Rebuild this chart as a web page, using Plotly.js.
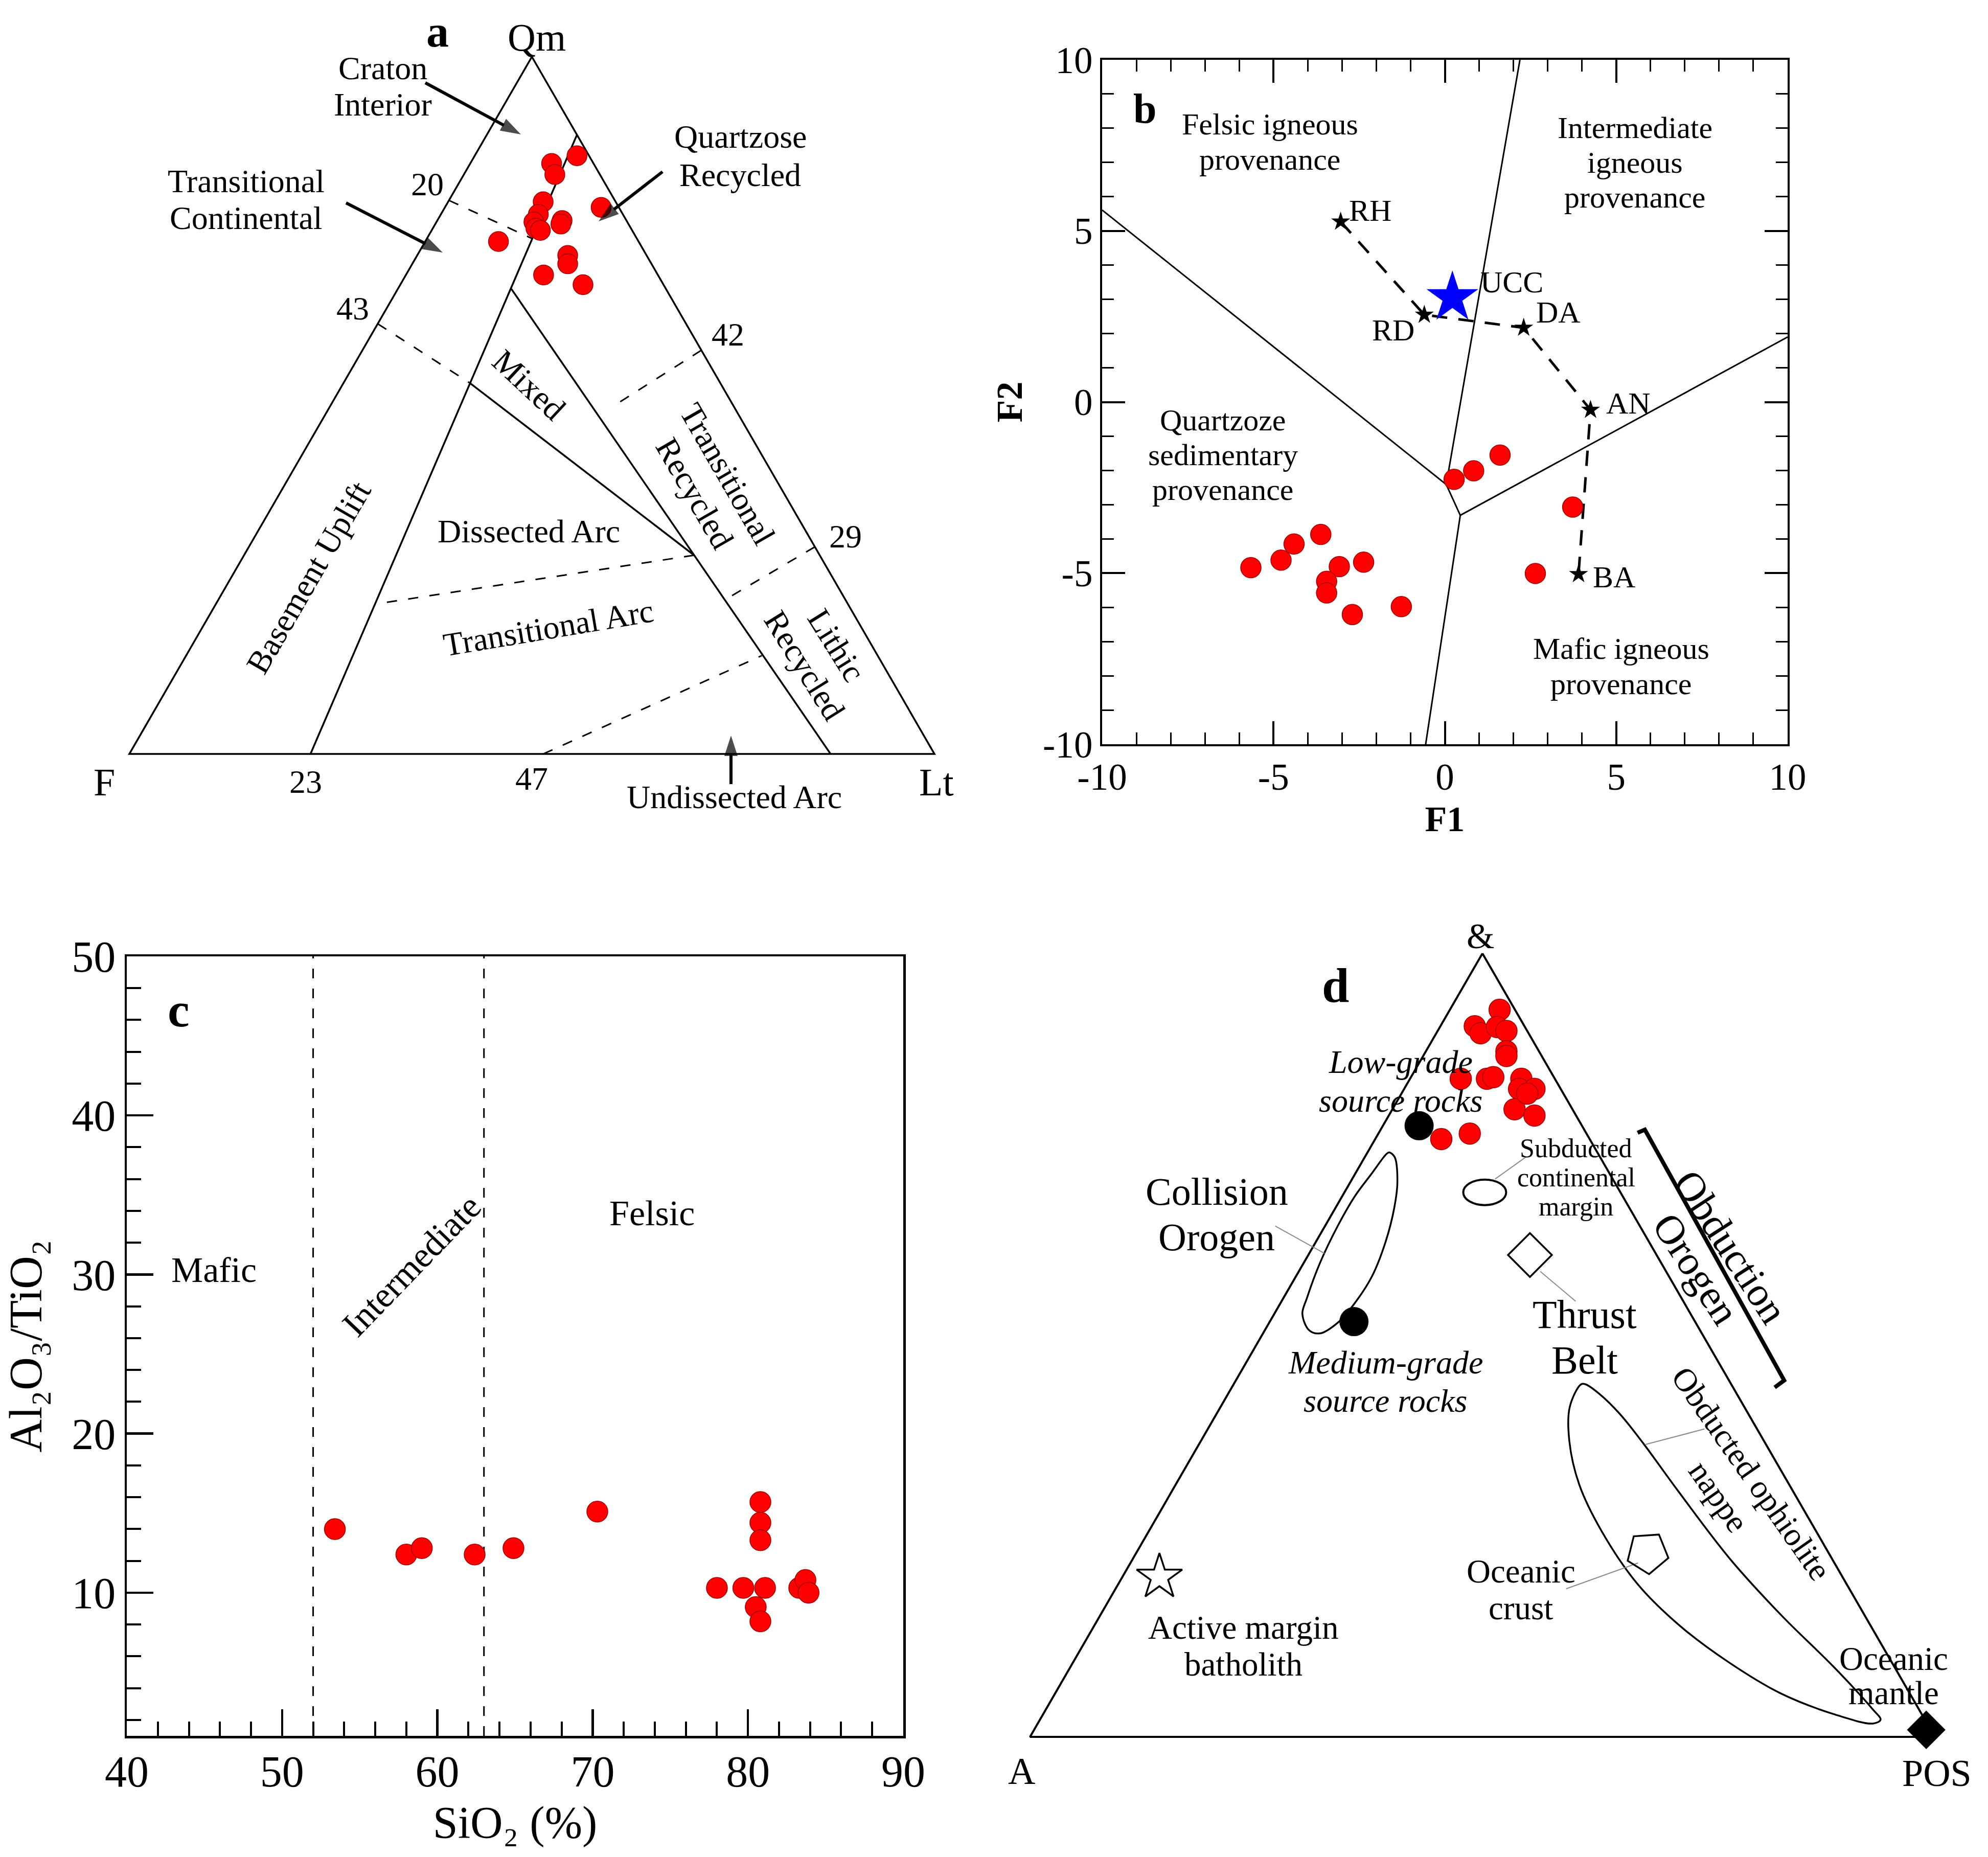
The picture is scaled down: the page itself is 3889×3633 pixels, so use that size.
<!DOCTYPE html>
<html>
<head>
<meta charset="utf-8">
<script src="https://cdn.plot.ly/plotly-3.0.1.min.js"></script>
<style>html,body{margin:0;padding:0;background:#fff;}</style>
</head>
<body>
<div id="chart" style="width:3889px;height:3633px;"></div>
<script>
// ================= DATA =================
// ---- Panel a : Qm-F-Lt ternary (percent) ----
const aQm = [85.8, 84.7, 83.1, 79.2, 77.4, 76.3, 75.4, 76.5, 76.0, 78.4, 73.5, 71.5, 70.3, 68.7, 67.3, 75.1];
const aF  = [1.5, 5.2, 5.6, 9.0, 10.5, 11.6, 11.8, 8.0, 8.4, 2.2, 17.4, 9.8, 10.4, 14.2, 10.0, 11.4];
const aLt = [12.7, 10.1, 11.3, 11.8, 12.1, 12.1, 12.8, 15.5, 15.6, 19.4, 9.1, 18.7, 19.3, 17.1, 22.7, 13.5];
// field boundaries as [Qm, F, Lt]
const aOuter = [[100,0,0],[0,100,0],[0,0,100],[100,0,0]];
const aSolid1 = [[88.8,0,11.2],[0,77.5,22.5]];
const aSolid2 = [[66.7,19.2,14.1],[0,12.9,87.1]];
const aSolid3 = [[53.2,31.1,15.7],[28.5,15.6,55.9]];
const aDash1 = [[79.4,20.6,0],[73.9,13.0,13.1]];
const aDash2 = [[61.7,38.3,0],[53.2,31.1,15.7]];
const aDash3 = [[57.9,0,42.1],[49.7,15.3,35.0]];
const aDash4 = [[29.7,0,70.3],[22.3,14.6,63.1]];
const aDash5 = [[28.5,15.6,55.9],[21.5,58.7,19.8]];
const aDash6 = [[0,48.6,51.4],[14.1,14.4,71.5]];
const aTickLabels = ['20','43','42','29','23','47'];

// ---- Panel b : discriminant functions ----
const bF1 = [0.27, 0.84, 1.61, 3.73, 2.64, -5.66, -4.78, -4.40, -3.62, -3.08, -2.37, -3.45, -3.45, -2.70, -1.27];
const bF2 = [-2.26, -2.01, -1.55, -3.07, -5.01, -4.84, -4.62, -4.15, -3.87, -4.81, -4.68, -5.24, -5.58, -6.21, -5.98];
const bRefNames = ['RH', 'RD', 'DA', 'AN', 'BA'];
const bRefF1 = [-3.04, -0.60, 2.30, 4.25, 3.90];
const bRefF2 = [5.27, 2.55, 2.17, -0.23, -5.03];
const bUccF1 = [0.22];
const bUccF2 = [3.05];
const bLineFQ_F1 = [-10, 0.04];   const bLineFQ_F2 = [5.61, -2.41];
const bLineFI_F1 = [0.04, 2.19];  const bLineFI_F2 = [-2.41, 10];
const bLineQM_F1 = [0.04, 0.45, -0.56]; const bLineQM_F2 = [-2.41, -3.31, -10];
const bLineIM_F1 = [0.45, 10];    const bLineIM_F2 = [-3.31, 1.90];
const bTickVals = [-10, -5, 0, 5, 10];
const bTickText = ['-10', '-5', '0', '5', '10'];

// ---- Panel c : SiO2 vs Al2O3/TiO2 ----
const cSiO2  = [53.4, 58.0, 59.0, 62.4, 64.9, 70.3, 78.0, 79.7, 80.8, 80.8, 80.8, 81.1, 80.5, 80.8, 83.3, 83.7, 83.9];
const cRatio = [14.0, 12.4, 12.8, 12.4, 12.8, 15.1, 10.3, 10.3, 15.7, 14.4, 13.3, 10.3, 9.1, 8.2, 10.3, 10.8, 10.0];
const cBoundSiO2 = [52, 63];
const cXTickVals = [40, 50, 60, 70, 80, 90];
const cYTickVals = [10, 20, 30, 40, 50];

// ---- Panel d : &-A-POS ternary, [T(&), A, POS] ----
const dT = [92.8, 90.7, 89.8, 90.6, 90.1, 87.5, 86.9, 84.0, 84.0, 84.2, 84.0, 82.7, 82.7, 80.1, 79.3, 76.3, 77.0, 82.1];
const dA = [1.7, 5.5, 5.3, 3.1, 2.3, 3.6, 3.9, 10.4, 7.5, 6.7, 3.7, 4.6, 2.9, 6.4, 4.6, 16.4, 12.9, 4.0];
const dP = [5.5, 3.8, 4.9, 6.3, 7.6, 8.9, 9.2, 5.6, 8.5, 9.1, 12.3, 12.7, 14.4, 13.5, 16.1, 7.3, 10.1, 13.9];
const dOuter = [[100,0,0],[0,100,0],[0,0,100],[100,0,0]];
const dSrcNames = ['Low-grade source rocks','Medium-grade source rocks','Subducted continental margin','Thrust belt','Oceanic crust','Active margin batholith','Oceanic mantle'];
const dSrcT = [78.0, 53.0, 69.5, 61.5, 23.5, 20.4, 0.9];
const dSrcA = [18.0, 37.7, 15.0, 14.0, 20.0, 75.5, 0.5];
const dSrcP = [4.0, 9.3, 15.5, 24.5, 56.5, 4.1, 98.6];
const dCollision = [[74.6,23.0,2.4],[74.0,22.7,3.3],[70.8,24.0,5.2],[67.5,26.0,6.5],[63.2,29.1,7.7],[58.8,32.8,8.4],[55.3,36.5,8.2],[52.9,39.5,7.6],[51.5,42.2,6.3],[51.9,43.2,4.9],[54.0,42.9,3.1],[56.0,41.4,2.6],[60.5,37.7,1.8],[65.3,33.3,1.4],[69.0,29.6,1.4],[71.8,26.4,1.8],[74.4,23.4,2.2],[74.6,23.0,2.4]];
const dOphiolite = [[45.0,16.6,38.4],[42.1,19.3,38.6],[37.8,21.5,40.7],[32.2,23.2,44.6],[26.2,23.7,50.1],[19.5,23.1,57.4],[14.2,21.1,64.7],[9.5,18.0,72.5],[5.5,14.2,80.3],[2.9,9.7,87.4],[1.7,6.0,92.3],[2.2,4.9,92.9],[3.5,5.1,91.4],[8.9,6.7,84.4],[15.5,9.2,75.3],[22.8,11.3,65.9],[31.5,12.7,55.8],[37.5,13.5,49.0],[41.2,14.2,44.6],[43.8,15.2,41.0],[45.0,16.1,38.9],[45.0,16.6,38.4]];
const dBracket = [[77.1,-5.7,28.6],[77.5,-6.7,29.2],[45.5,-6.1,60.6],[44.6,-4.6,60.0]];
const dLeaders = [
  [[65.2,40.3,-5.5],[61.7,36.6,1.7]],
  [[74.0,8.2,17.8],[71.2,13.0,15.8]],
  [[59.4,13.9,26.7],[55.6,11.9,32.5]],
  [[37.3,13.4,49.3],[39.3,5.8,54.9]],
  [[18.9,31.3,49.8],[22.2,21.7,56.1]]
];

// ================= HELPERS =================
const W = 3889, H = 3633;
const FONT = 'Liberation Serif, "Times New Roman", serif';
const S3 = Math.sqrt(3) / 2;
// panel a: top = Qm, right = Lt ; panel d: top = T, right = POS
function tri(pts) { return { x: pts.map(p => p[2] + p[0] / 2), y: pts.map(p => p[0] * S3) }; }
function px(x) { return x / W; }
function py(y) { return 1 - y / H; }
// panel a frame: F vertex at pixel (253,1475), 15.75 px per percent
function aPix(x, y) { return [(x - 253) / 15.75, (1475 - y) / 15.75]; }

const traces = [];
function lineTrace(xy, xa, ya, width, dash, color, shape) {
  traces.push({
    type: 'scatter', mode: 'lines', x: xy.x, y: xy.y, xaxis: xa, yaxis: ya,
    line: { color: color || '#000', width: width, dash: dash || 'solid', shape: shape || 'linear', smoothing: 1 },
    hoverinfo: 'skip', showlegend: false
  });
}

// ---- panel a traces ----
lineTrace(tri(aOuter), 'x', 'y', 3.5);
[aSolid1, aSolid2, aSolid3].forEach(s => lineTrace(tri(s), 'x', 'y', 3.5));
[aDash1, aDash2, aDash3, aDash4, aDash5, aDash6].forEach(s => lineTrace(tri(s), 'x', 'y', 3, '20px,22px'));
traces.push({
  type: 'scatter', mode: 'markers', xaxis: 'x', yaxis: 'y',
  x: aLt.map((v, i) => v + aQm[i] / 2), y: aQm.map(v => v * S3),
  marker: { color: '#ff0000', size: 39, line: { color: '#a00000', width: 1.5 } },
  hoverinfo: 'skip', showlegend: false
});
// pointer arrows of panel a (tail pixel -> head pixel)
[[832, 162, 1019, 263], [677, 397, 866, 494], [1296, 336, 1171, 433], [1430, 1534, 1430, 1439]].forEach(a => {
  const t = aPix(a[0], a[1]), h = aPix(a[2], a[3]);
  traces.push({
    type: 'scatter', mode: 'lines+markers', xaxis: 'x', yaxis: 'y',
    x: [t[0], h[0]], y: [t[1], h[1]],
    line: { color: '#000', width: 6 },
    marker: { color: '#000', size: [0, 42], symbol: ['circle', 'arrow'], angleref: 'previous', line: { width: 0 } },
    hoverinfo: 'skip', showlegend: false
  });
});

// ---- panel b traces ----
[[bLineFQ_F1, bLineFQ_F2], [bLineFI_F1, bLineFI_F2], [bLineQM_F1, bLineQM_F2], [bLineIM_F1, bLineIM_F2]]
  .forEach(l => lineTrace({ x: l[0], y: l[1] }, 'x2', 'y2', 3));
lineTrace({ x: bRefF1, y: bRefF2 }, 'x2', 'y2', 5, '30px,22px');
traces.push({
  type: 'scatter', mode: 'markers', xaxis: 'x2', yaxis: 'y2', x: bF1, y: bF2,
  marker: { color: '#ff0000', size: 40, line: { color: '#a00000', width: 1.5 } },
  hoverinfo: 'skip', showlegend: false
});
traces.push({
  type: 'scatter', mode: 'markers', xaxis: 'x2', yaxis: 'y2', x: bRefF1, y: bRefF2,
  marker: { color: '#000', size: 28, symbol: 'star', line: { width: 0 } },
  hoverinfo: 'skip', showlegend: false
});
traces.push({
  type: 'scatter', mode: 'markers', xaxis: 'x2', yaxis: 'y2', x: bUccF1, y: bUccF2,
  marker: { color: '#0000ff', size: 76, symbol: 'star', line: { width: 0 } },
  hoverinfo: 'skip', showlegend: false
});

// ---- panel c traces ----
cBoundSiO2.forEach(v => lineTrace({ x: [v, v], y: [1, 50] }, 'x3', 'y3', 3, '19px,20px'));
traces.push({
  type: 'scatter', mode: 'markers', xaxis: 'x3', yaxis: 'y3', x: cSiO2, y: cRatio,
  marker: { color: '#ff0000', size: 41, line: { color: '#a00000', width: 1.5 } },
  hoverinfo: 'skip', showlegend: false
});

// ---- panel d traces ----
lineTrace(tri(dOuter), 'x4', 'y4', 4);
lineTrace(tri(dCollision), 'x4', 'y4', 3.5, 'solid', '#000', 'spline');
lineTrace(tri(dOphiolite), 'x4', 'y4', 3.5, 'solid', '#000', 'spline');
lineTrace(tri(dBracket), 'x4', 'y4', 8);
dLeaders.forEach(l => lineTrace(tri(l), 'x4', 'y4', 2, 'solid', '#8a8a8a'));
traces.push({
  type: 'scatter', mode: 'markers', xaxis: 'x4', yaxis: 'y4',
  x: dP.map((v, i) => v + dT[i] / 2), y: dT.map(v => v * S3),
  marker: { color: '#ff0000', size: 42, line: { color: '#a00000', width: 1.5 } },
  hoverinfo: 'skip', showlegend: false
});
const srcSym = ['circle', 'circle', null, 'diamond-open', 'pentagon-open', 'star-open', 'diamond'];
const srcSize = [57, 57, 0, 66, 84, 67, 58];
const srcAngle = [0, 0, 0, 0, 176, 0, 0];
const srcLineW = [0, 0, 0, 3.5, 3.5, 3.5, 0];
dSrcNames.forEach((n, i) => {
  if (!srcSym[i]) return;
  traces.push({
    type: 'scatter', mode: 'markers', xaxis: 'x4', yaxis: 'y4', name: n,
    x: [dSrcP[i] + dSrcT[i] / 2], y: [dSrcT[i] * S3],
    marker: { color: '#000', size: srcSize[i], symbol: srcSym[i], angle: srcAngle[i], line: { color: '#000', width: srcLineW[i] } },
    hoverinfo: 'skip', showlegend: false
  });
});

// ================= LAYOUT =================
const annotations = [];
function ann(text, x, y, size, opts) {
  annotations.push(Object.assign({
    text: text, x: px(x), y: py(y), xref: 'paper', yref: 'paper', showarrow: false,
    xanchor: 'center', yanchor: 'middle', font: { family: FONT, size: size, color: '#000' }
  }, opts || {}));
}
// multi-line label: one annotation per line, lines stacked with a given spacing,
// along the direction perpendicular to the (rotated) baseline
function multi(lines, cx, cy, size, spacing, angle, wrap) {
  const th = (angle || 0) * Math.PI / 180;
  const dx = -Math.sin(th), dy = Math.cos(th);
  const n = lines.length;
  lines.forEach((t, i) => {
    const k = (i - (n - 1) / 2) * spacing;
    const txt = wrap ? wrap[0] + t + wrap[1] : t;
    ann(txt, cx + dx * k, cy + dy * k, size, angle ? { textangle: angle } : {});
  });
}

// panel a
ann('<b>a</b>', 856, 62, 88);
ann('Qm', 1050, 73, 76);
ann('F', 204, 1530, 76);
ann('Lt', 1832, 1530, 76);
multi(['Craton', 'Interior'], 749, 169, 64, 70);
multi(['Transitional', 'Continental'], 481, 391, 64, 72);
multi(['Quartzose', 'Recycled'], 1448, 305, 64, 74);
ann(aTickLabels[0], 836, 360, 64);
ann(aTickLabels[1], 690, 603, 64);
ann(aTickLabels[2], 1424, 654, 64);
ann(aTickLabels[3], 1654, 1050, 64);
ann(aTickLabels[4], 598, 1530, 64);
ann(aTickLabels[5], 1040, 1523, 64);
ann('Undissected Arc', 1436, 1560, 64);
ann('Mixed', 1034, 753, 64, { textangle: 43 });
multi(['Transitional', 'Recycled'], 1391, 946, 64, 75, 60);
multi(['Lithic', 'Recycled'], 1605, 1282, 64, 74, 58);
ann('Dissected Arc', 1034, 1039, 64);
ann('Transitional Arc', 1072, 1228, 64, { textangle: -9.5 });
ann('Basement Uplift', 603, 1130, 64, { textangle: -60 });
// panel b
ann('<b>b</b>', 2240, 212, 82);
multi(['Felsic igneous', 'provenance'], 2484, 278, 60, 69);
multi(['Intermediate', 'igneous', 'provenance'], 3198, 318, 60, 68);
multi(['Quartzoze', 'sedimentary', 'provenance'], 2392, 890, 60, 68);
multi(['Mafic igneous', 'provenance'], 3171, 1303, 60, 69);
// panel c
ann('<b>c</b>', 349, 1975, 96);
ann('Mafic', 418, 2484, 70);
ann('Felsic', 1275, 2373, 70);
ann('Intermediate', 805, 2475, 70, { textangle: -46 });
// panel d
ann('&', 2896, 1831, 70);
ann('<b>d</b>', 2612, 1927, 96);
ann('A', 1999, 3465, 74);
ann('POS', 3789, 3469, 74);
multi(['Low-grade', 'source rocks'], 2740, 2115, 64, 76, 0, ['<i>', '</i>']);
multi(['Collision', 'Orogen'], 2380, 2375, 76, 89);
multi(['Subducted', 'continental', 'margin'], 3083, 2303, 52, 57);
multi(['Obduction', 'Orogen'], 3352, 2461, 80, 80, 57);
multi(['Thrust', 'Belt'], 3100, 2616, 78, 89);
multi(['Medium-grade', 'source rocks'], 2710, 2703, 64, 75, 0, ['<i>', '</i>']);
multi(['Obducted ophiolite', 'nappe'], 3394, 2905, 64, 78, 55);
multi(['Oceanic', 'crust'], 2975, 3110, 65, 72);
multi(['Active margin', 'batholith'], 2432, 3220, 65, 72);
multi(['Oceanic', 'mantle'], 3704, 3278, 65, 67);

// reference-composition labels in panel b (anchored to their data points)
const bLabelShift = [[58, 22], [-61, -30], [68, 30], [74, 13], [69, -6]];
bRefNames.forEach((n, i) => {
  annotations.push({
    text: n, x: bRefF1[i], y: bRefF2[i], xref: 'x2', yref: 'y2', showarrow: false,
    xshift: bLabelShift[i][0], yshift: bLabelShift[i][1], xanchor: 'center', yanchor: 'middle',
    font: { family: FONT, size: 60, color: '#000' }
  });
});
annotations.push({
  text: 'UCC', x: bUccF1[0], y: bUccF2[0], xref: 'x2', yref: 'y2', showarrow: false,
  xshift: 116, yshift: 30, xanchor: 'center', yanchor: 'middle', font: { family: FONT, size: 60, color: '#000' }
});

// subducted continental margin ellipse (anchored to its data point)
const shapes = [{
  type: 'circle', xref: 'x4', yref: 'y4', xsizemode: 'pixel', ysizemode: 'pixel',
  xanchor: dSrcP[2] + dSrcT[2] / 2, yanchor: dSrcT[2] * S3,
  x0: -42, x1: 42, y0: -25, y1: 25, line: { color: '#000', width: 4 }
}];

function hiddenAxis(domain, range, anchor) {
  return { domain: domain, range: range, anchor: anchor, visible: false, fixedrange: true, showgrid: false, zeroline: false };
}
function frameAxis(o) {
  return Object.assign({
    showline: true, linecolor: '#000', showgrid: false, zeroline: false, fixedrange: true,
    ticks: 'inside', tickcolor: '#000', tickmode: 'array',
    tickfont: { family: FONT, size: 73, color: '#000' }
  }, o);
}

const layout = {
  width: W, height: H, margin: { l: 0, r: 0, t: 0, b: 0 },
  paper_bgcolor: '#fff', plot_bgcolor: 'rgba(0,0,0,0)',
  font: { family: FONT, color: '#000' }, showlegend: false,
  // panel a (ternary frame): F vertex at (253,1475) px, side 1575 px
  xaxis: hiddenAxis([0, 1960 / W], [-253 / 15.75, (1960 - 253) / 15.75], 'y'),
  yaxis: hiddenAxis([1 - 1640 / H, 1], [(1475 - 1640) / 15.75, 1475 / 15.75], 'x'),
  // panel b
  xaxis2: frameAxis({
    domain: [2156 / W, 3497 / W], range: [-10, 10], anchor: 'y2', linewidth: 4, mirror: 'allticks',
    tickvals: bTickVals, ticktext: bTickText, ticklen: 45, tickwidth: 4, ticklabelstandoff: -3,
    minor: { ticks: 'inside', ticklen: 23, tickwidth: 3, tickcolor: '#000', dtick: 1, tick0: 0, showgrid: false },
    title: { text: '<b>F1</b>', font: { family: FONT, size: 70, color: '#000' }, standoff: 18 }
  }),
  yaxis2: frameAxis({
    domain: [1 - 1456 / H, 1 - 117 / H], range: [-10, 10], anchor: 'x2', linewidth: 4, mirror: 'allticks',
    tickvals: bTickVals, ticktext: bTickText, ticklen: 45, tickwidth: 4,
    minor: { ticks: 'inside', ticklen: 23, tickwidth: 3, tickcolor: '#000', dtick: 1, tick0: 0, showgrid: false },
    title: { text: '<b>F2</b>', font: { family: FONT, size: 72, color: '#000' }, standoff: 18 }
  }),
  // panel c
  xaxis3: frameAxis({
    domain: [248 / W, 1767 / W], range: [40, 90], anchor: 'y3', linewidth: 4.5, mirror: true,
    tickvals: cXTickVals, ticklen: 52, tickwidth: 4.5, ticklabelstandoff: -9,
    tickfont: { family: FONT, size: 86, color: '#000' },
    minor: { ticks: 'inside', ticklen: 28, tickwidth: 4, tickcolor: '#000', dtick: 2, tick0: 0, showgrid: false },
    title: { text: 'SiO\u2082 (%)', font: { family: FONT, size: 88, color: '#000' }, standoff: 22 }
  }),
  yaxis3: frameAxis({
    domain: [1 - 3396 / H, 1 - 1871 / H], range: [1, 50], anchor: 'x3', linewidth: 4.5, mirror: true,
    tickvals: cYTickVals, ticklen: 52, tickwidth: 4.5,
    tickfont: { family: FONT, size: 86, color: '#000' },
    minor: { ticks: 'inside', ticklen: 28, tickwidth: 4, tickcolor: '#000', dtick: 2, tick0: 0, showgrid: false },
    title: { text: 'Al\u2082O\u2083/TiO\u2082', font: { family: FONT, size: 90, color: '#000' }, standoff: 30 }
  }),
  // panel d (ternary frame): A vertex at (2015,3398) px, side 1770 px
  xaxis4: hiddenAxis([1980 / W, 1], [(1980 - 2015) / 17.70, (3889 - 2015) / 17.70], 'y4'),
  yaxis4: hiddenAxis([0, 1 - 1760 / H], [(3398 - 3633) / 17.70, (3398 - 1760) / 17.70], 'x4'),
  annotations: annotations,
  shapes: shapes
};

Plotly.newPlot('chart', traces, layout, { staticPlot: true, displayModeBar: false });
</script>
</body>
</html>
